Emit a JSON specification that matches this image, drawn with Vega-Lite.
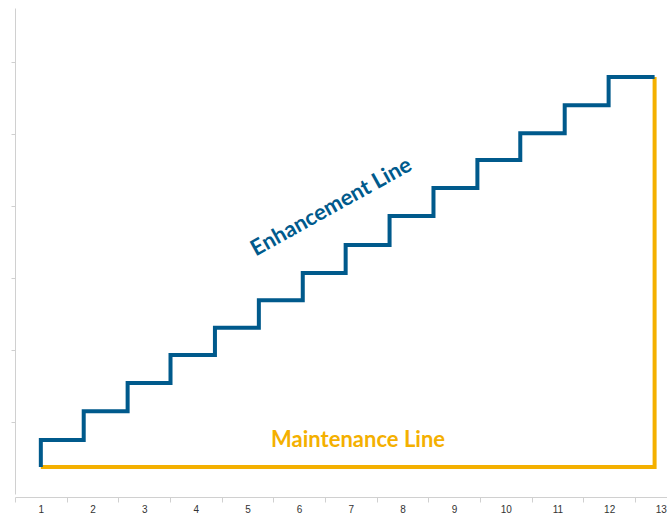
{
  "$schema": "https://vega.github.io/schema/vega-lite/v6.json",
  "width": 652,
  "height": 486,
  "autosize": "none",
  "padding": {"left": 15, "top": 8, "right": 0, "bottom": 20},
  "config": {"view": {"stroke": null}},
  "datasets": {
    "lines": [
      {"series": "Maintenance", "ord": 1, "x": 1.0, "y": 0.375},
      {"series": "Maintenance", "ord": 2, "x": 12.88, "y": 0.375},
      {"series": "Maintenance", "ord": 3, "x": 12.88, "y": 5.79},
      {"series": "Enhancement", "ord": 1, "x": 1.0, "y": 0.375},
      {"series": "Enhancement", "ord": 2, "x": 1.0, "y": 0.75},
      {"series": "Enhancement", "ord": 3, "x": 1.83, "y": 1.15},
      {"series": "Enhancement", "ord": 4, "x": 2.68, "y": 1.54},
      {"series": "Enhancement", "ord": 5, "x": 3.51, "y": 1.93},
      {"series": "Enhancement", "ord": 6, "x": 4.37, "y": 2.31},
      {"series": "Enhancement", "ord": 7, "x": 5.22, "y": 2.69},
      {"series": "Enhancement", "ord": 8, "x": 6.07, "y": 3.07},
      {"series": "Enhancement", "ord": 9, "x": 6.9, "y": 3.46},
      {"series": "Enhancement", "ord": 10, "x": 7.75, "y": 3.86},
      {"series": "Enhancement", "ord": 11, "x": 8.6, "y": 4.25},
      {"series": "Enhancement", "ord": 12, "x": 9.45, "y": 4.64},
      {"series": "Enhancement", "ord": 13, "x": 10.28, "y": 5.01},
      {"series": "Enhancement", "ord": 14, "x": 11.14, "y": 5.4},
      {"series": "Enhancement", "ord": 15, "x": 11.99, "y": 5.79},
      {"series": "Enhancement", "ord": 16, "x": 12.88, "y": 5.79}
    ],
    "labels": [
      {"series": "Enhancement", "label": "Enhancement Line", "x": 6.62, "y": 3.99, "angle": -29},
      {"series": "Maintenance", "label": "Maintenance Line", "x": 7.14, "y": 0.75, "angle": 0}
    ]
  },
  "encoding": {
    "x": {
      "field": "x", "type": "quantitative",
      "scale": {"domain": [0.5, 13.12], "nice": false, "zero": false},
      "axis": {
        "title": null, "values": [1,2,3,4,5,6,7,8,9,10,11,12,13],
        "grid": false, "offset": 3,
        "tickOffset": -25.83, "labelOffset": 25.83,
        "domainColor": "#d0d0d0", "tickColor": "#d0d0d0", "tickSize": 5,
        "labelFont": "Liberation Sans", "labelFontSize": 10, "labelColor": "#333333",
        "labelPadding": 2, "labelFlush": false, "labelOverlap": false
      }
    },
    "y": {
      "field": "y", "type": "quantitative",
      "scale": {"domain": [0, 6.75], "nice": false},
      "axis": {
        "title": null, "values": [1,2,3,4,5,6], "labels": false, "grid": false,
        "domainColor": "#d0d0d0", "tickColor": "#d0d0d0", "tickSize": 4
      }
    },
    "color": {
      "field": "series", "type": "nominal", "legend": null,
      "scale": {"domain": ["Maintenance", "Enhancement"], "range": ["#f4b000", "#005a8c"]}
    }
  },
  "layer": [
    {
      "data": {"name": "lines"},
      "mark": {"type": "line", "strokeWidth": 4, "strokeJoin": "miter", "interpolate": "step-after"},
      "encoding": {
        "order": {"field": "ord", "type": "quantitative"},
        "detail": {"field": "series"}
      }
    },
    {
      "data": {"name": "labels"},
      "mark": {"type": "text", "font": "Lato", "fontWeight": "bold", "fontSize": 22, "align": "center", "baseline": "middle"},
      "encoding": {
        "text": {"field": "label"},
        "angle": {"field": "angle", "type": "quantitative", "scale": null}
      }
    }
  ]
}
